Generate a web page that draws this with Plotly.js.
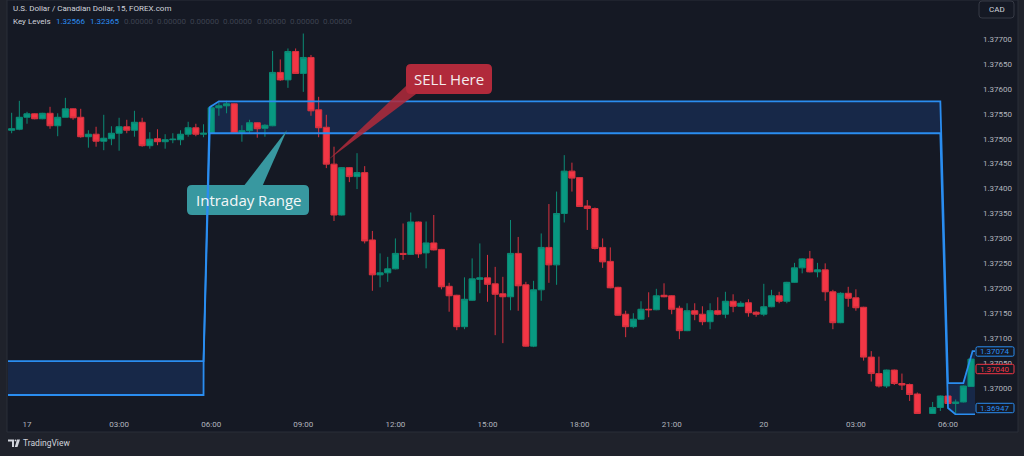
<!DOCTYPE html>
<html><head><meta charset="utf-8">
<script src="https://cdn.plot.ly/plotly-3.0.1.min.js"></script>
<style>html,body{margin:0;padding:0;background:#151924;}#chart{width:1024px;height:456px;}</style>
</head><body><div id="chart"></div>
<script>
// ---- data (bar index 0 = 17th 00:00, 15-minute bars) ----
const barIndex = [-2,-1,0,1,2,3,4,5,6,7,8,9,10,11,12,13,14,15,16,17,18,19,20,21,22,23,24,25,26,27,28,29,30,31,32,33,34,35,36,37,38,39,40,41,42,43,44,45,46,47,48,49,50,51,52,53,54,55,56,57,58,59,60,61,62,63,64,65,66,67,68,69,70,71,72,73,74,75,76,77,78,79,80,81,82,83,84,85,86,87,88,89,90,91,92,93,94,95,96,97,98,99,100,101,102,103,104,105,106,107,108,109,110,111,112,113,114,115,116,118,119,120,121,122,123];
const openP = [1.37517,1.37519,1.37543,1.37550,1.37540,1.37551,1.37526,1.37543,1.37560,1.37543,1.37504,1.37509,1.37495,1.37500,1.37511,1.37524,1.37517,1.37533,1.37486,1.37500,1.37494,1.37498,1.37498,1.37509,1.37522,1.37509,1.37511,1.37562,1.37566,1.37570,1.37513,1.37516,1.37532,1.37521,1.37526,1.37633,1.37618,1.37675,1.37631,1.37663,1.37558,1.37523,1.37449,1.37347,1.37442,1.37424,1.37432,1.37297,1.37227,1.37231,1.37239,1.37270,1.37268,1.37333,1.37271,1.37291,1.37278,1.37204,1.37186,1.37123,1.37176,1.37218,1.37221,1.37209,1.37189,1.37183,1.37270,1.37207,1.37084,1.37197,1.37282,1.37247,1.37350,1.37435,1.37422,1.37365,1.37360,1.37282,1.37254,1.37202,1.37148,1.37123,1.37138,1.37158,1.37157,1.37186,1.37185,1.37160,1.37115,1.37155,1.37148,1.37133,1.37155,1.37148,1.37174,1.37164,1.37171,1.37152,1.37148,1.37163,1.37185,1.37174,1.37212,1.37241,1.37259,1.37233,1.37237,1.37193,1.37131,1.37190,1.37181,1.37162,1.37062,1.37029,1.37004,1.37036,1.37009,1.37007,1.36988,1.36949,1.36961,1.36984,1.36969,1.36972,1.37003];
const highP = [1.37552,1.37576,1.37554,1.37551,1.37552,1.37564,1.37551,1.37582,1.37561,1.37560,1.37517,1.37524,1.37548,1.37525,1.37542,1.37538,1.37556,1.37542,1.37513,1.37519,1.37509,1.37511,1.37517,1.37534,1.37530,1.37529,1.37568,1.37573,1.37576,1.37571,1.37527,1.37538,1.37533,1.37529,1.37676,1.37659,1.37681,1.37681,1.37711,1.37668,1.37584,1.37548,1.37484,1.37443,1.37443,1.37471,1.37445,1.37315,1.37270,1.37263,1.37300,1.37330,1.37352,1.37334,1.37334,1.37347,1.37279,1.37211,1.37187,1.37222,1.37260,1.37290,1.37267,1.37243,1.37223,1.37337,1.37303,1.37213,1.37215,1.37310,1.37369,1.37394,1.37467,1.37452,1.37423,1.37377,1.37362,1.37300,1.37282,1.37203,1.37155,1.37150,1.37174,1.37192,1.37199,1.37210,1.37186,1.37165,1.37170,1.37170,1.37164,1.37170,1.37182,1.37193,1.37188,1.37174,1.37178,1.37154,1.37209,1.37197,1.37193,1.37213,1.37251,1.37260,1.37275,1.37251,1.37250,1.37197,1.37192,1.37203,1.37198,1.37163,1.37074,1.37063,1.37037,1.37037,1.37029,1.37009,1.36991,1.36972,1.36985,1.36985,1.36977,1.37005,1.37059];
const lowP = [1.37511,1.37517,1.37530,1.37539,1.37539,1.37520,1.37505,1.37543,1.37538,1.37502,1.37482,1.37484,1.37477,1.37487,1.37476,1.37511,1.37504,1.37484,1.37480,1.37487,1.37480,1.37491,1.37487,1.37504,1.37505,1.37503,1.37510,1.37546,1.37551,1.37510,1.37494,1.37511,1.37502,1.37504,1.37525,1.37616,1.37602,1.37630,1.37594,1.37546,1.37503,1.37441,1.37335,1.37346,1.37413,1.37399,1.37290,1.37195,1.37202,1.37213,1.37238,1.37257,1.37267,1.37261,1.37240,1.37276,1.37198,1.37153,1.37116,1.37118,1.37175,1.37190,1.37173,1.37106,1.37090,1.37156,1.37155,1.37083,1.37082,1.37175,1.37211,1.37207,1.37332,1.37394,1.37363,1.37317,1.37278,1.37241,1.37200,1.37145,1.37102,1.37120,1.37137,1.37142,1.37156,1.37182,1.37148,1.37098,1.37114,1.37136,1.37126,1.37118,1.37146,1.37140,1.37152,1.37163,1.37143,1.37143,1.37144,1.37162,1.37170,1.37170,1.37211,1.37230,1.37232,1.37222,1.37175,1.37118,1.37130,1.37163,1.37155,1.37055,1.37013,1.37001,1.37000,1.37006,1.36996,1.36974,1.36948,1.36948,1.36954,1.36967,1.36949,1.36971,1.37002];
const closeP = [1.37520,1.37543,1.37550,1.37540,1.37551,1.37526,1.37543,1.37560,1.37542,1.37504,1.37509,1.37495,1.37501,1.37511,1.37524,1.37517,1.37533,1.37486,1.37499,1.37494,1.37498,1.37499,1.37509,1.37522,1.37509,1.37511,1.37562,1.37566,1.37570,1.37511,1.37516,1.37532,1.37520,1.37527,1.37633,1.37618,1.37675,1.37631,1.37663,1.37556,1.37522,1.37449,1.37347,1.37442,1.37424,1.37432,1.37295,1.37227,1.37231,1.37239,1.37270,1.37268,1.37333,1.37269,1.37291,1.37277,1.37203,1.37185,1.37123,1.37178,1.37219,1.37221,1.37208,1.37188,1.37183,1.37270,1.37205,1.37084,1.37197,1.37282,1.37247,1.37350,1.37435,1.37421,1.37364,1.37360,1.37280,1.37253,1.37201,1.37146,1.37123,1.37138,1.37158,1.37157,1.37185,1.37183,1.37158,1.37115,1.37155,1.37148,1.37133,1.37155,1.37148,1.37174,1.37164,1.37170,1.37151,1.37148,1.37163,1.37185,1.37174,1.37212,1.37241,1.37259,1.37233,1.37237,1.37193,1.37131,1.37190,1.37180,1.37161,1.37062,1.37029,1.37004,1.37036,1.37009,1.37006,1.36987,1.36949,1.36961,1.36984,1.36969,1.36972,1.37004,1.37058];

// Key Levels indicator (upper and lower level lines)
const keyTopX = [-4,23,23.8,25,119,120,122,123.2,125];
const keyTopY = [1.37054,1.37054,1.37563,1.37575,1.37575,1.37010,1.37010,1.37074,1.37074];
const keyBotX = [-4,23,23.01,23.8,119,120,121,125];
const keyBotY = [1.36986,1.36986,1.37054,1.37511,1.37511,1.36960,1.36947,1.36947];

// axis labels
const timeTickIdx = [0,12,24,36,48,60,72,84,96,108,120];
const timeTickText = ['17','03:00','06:00','09:00','12:00','15:00','18:00','21:00','20','03:00','06:00'];
const priceTicks = [1.3700,1.3705,1.3710,1.3715,1.3720,1.3725,1.3730,1.3735,1.3740,1.3745,1.3750,1.3755,1.3760,1.3765,1.3770];

// header / labels text
const titleText = 'U.S. Dollar / Canadian Dollar, 15, FOREX.com';
const indicatorName = 'Key Levels';
const indicatorValues = ['1.32566','1.32365','0.00000','0.00000','0.00000','0.00000','0.00000','0.00000','0.00000'];
const priceLabels = [{v:'1.37074', c:'#2a8df0', y:351.5},{v:'1.37040', c:'#f23645', y:369},{v:'1.36947', c:'#2a8df0', y:408}];

// ---- layout geometry (pixels) ----
const W=1024, H=456, PL=8, PR=975, PT=0, PB=415;
const X0PX=27, BARPX=7.675;            // bar 0 centre, px per bar
const PXPRICE=49860, P_AT39=1.377;     // px per 1.0 price, price at y=39
const xr=[(PL-X0PX)/BARPX,(PR-X0PX)/BARPX];
const yr=[P_AT39-(PB-39)/PXPRICE, P_AT39+(39-PT)/PXPRICE];
const px=x=>(x-PL)/(PR-PL), py=y=>(PB-y)/(PB-PT);

function rrect(x0,y0,x1,y1,r){
  return `M${px(x0+r)},${py(y0)} L${px(x1-r)},${py(y0)} Q${px(x1)},${py(y0)} ${px(x1)},${py(y0+r)} L${px(x1)},${py(y1-r)} Q${px(x1)},${py(y1)} ${px(x1-r)},${py(y1)} L${px(x0+r)},${py(y1)} Q${px(x0)},${py(y1)} ${px(x0)},${py(y1-r)} L${px(x0)},${py(y0+r)} Q${px(x0)},${py(y0)} ${px(x0+r)},${py(y0)} Z`;
}
function poly(pts){return 'M'+pts.map(p=>px(p[0])+','+py(p[1])).join(' L')+' Z';}

// fill region between the key levels, in data coordinates (drawn below candles)
const bandPath = 'M' + keyTopX.map((x,k)=>x+','+keyTopY[k]).join(' L') + ' L' +
  keyBotX.map((x,k)=>x+','+keyBotY[k]).reverse().join(' L') + ' Z';

const OUTER='#1f222b', BG='#151924', FONT='Roboto, "Noto Sans", sans-serif';

const traces=[
  {type:'candlestick',x:barIndex,open:openP,high:highP,low:lowP,close:closeP,
   increasing:{line:{color:'#0b8b75',width:1},fillcolor:'#089981'},
   decreasing:{line:{color:'#d8323f',width:1},fillcolor:'#f23645'},
   whiskerwidth:0,hoverinfo:'skip'},
  {type:'scatter',mode:'lines',x:keyTopX,y:keyTopY,line:{color:'#2a8df0',width:1.8},hoverinfo:'skip'},
  {type:'scatter',mode:'lines',x:keyBotX,y:keyBotY,line:{color:'#2a8df0',width:1.8},hoverinfo:'skip'}
];

const shapes=[
  {type:'path',xref:'x',yref:'y',path:bandPath,fillcolor:'rgba(30,70,140,0.35)',line:{width:0},layer:'below'},
  {type:'rect',xref:'paper',yref:'paper',x0:px(0),x1:px(7),y0:py(0),y1:py(H),fillcolor:OUTER,line:{width:0},layer:'below'},
  {type:'rect',xref:'paper',yref:'paper',x0:px(1018),x1:px(W),y0:py(0),y1:py(H),fillcolor:OUTER,line:{width:0},layer:'below'},
  {type:'rect',xref:'paper',yref:'paper',x0:px(0),x1:px(W),y0:py(432),y1:py(H),fillcolor:OUTER,line:{width:0},layer:'below'},
  {type:'rect',xref:'paper',yref:'paper',x0:px(7),x1:px(1018),y0:py(0),y1:py(432),line:{color:'#2a2e39',width:1},layer:'below'},
  // CAD button
  {type:'path',xref:'paper',yref:'paper',path:rrect(979,1,1014,18,3),fillcolor:BG,line:{color:'#363a45',width:1}},
  // Intraday Range callout
  {type:'path',xref:'paper',yref:'paper',path:poly([[243,187],[262,187],[287,130]]),fillcolor:'#3898a0',line:{width:0},layer:'above'},
  {type:'path',xref:'paper',yref:'paper',path:rrect(187,185,309,215,5),fillcolor:'#3898a0',line:{width:0},layer:'below'},
  // SELL Here callout
  {type:'path',xref:'paper',yref:'paper',path:poly([[406,86],[416,94],[328,160]]),fillcolor:'#b12a3b',opacity:0.85,line:{width:0}},
  {type:'path',xref:'paper',yref:'paper',path:rrect(406,64,492,94,5),fillcolor:'#b12a3b',line:{width:0}},
  // TradingView logo mark
  {type:'path',xref:'paper',yref:'paper',path:poly([[8,439.5],[14,439.5],[14,447],[12,447],[12,441.5],[8,441.5]]),fillcolor:'#d1d4dc',line:{width:0}},
  {type:'path',xref:'paper',yref:'paper',path:poly([[17,439.5],[20,439.5],[17.5,447],[14.8,447]]),fillcolor:'#d1d4dc',line:{width:0}},
  {type:'circle',xref:'paper',yref:'paper',x0:px(14.6),x1:px(16.4),y0:py(439.5),y1:py(441.3),fillcolor:'#d1d4dc',line:{width:0}}
];
priceLabels.forEach(l=>{
  shapes.push({type:'path',xref:'paper',yref:'paper',path:rrect(976,l.y-4.7,1014,l.y+4.7,1.5),fillcolor:BG,line:{color:l.c,width:1}});
});

const ann=[];
const A=(text,x,y,opt)=>ann.push(Object.assign({text,xref:'paper',yref:'paper',x:px(x),y:py(y),showarrow:false,xanchor:'left',yanchor:'middle',font:{family:FONT,size:8,color:'#d1d4dc'}},opt||{}));
A(titleText,11,8);
A(indicatorName,11,21);
indicatorValues.forEach((v,k)=>{
  const x = k<2 ? 54+k*33.5 : 121.5+(k-2)*33.3;
  A(v,x,21,{font:{family:FONT,size:8,color:k<2?'#2a8df0':'#3d4250'}});
});
A('CAD',996.5,9.5,{xanchor:'center'});
A('SELL Here',449,79,{xanchor:'center',font:{family:'"Open Sans", sans-serif',size:15,color:'#f4ecee'}});
A('Intraday Range',248,200,{xanchor:'center',font:{family:'"Open Sans", sans-serif',size:15,color:'#f4f7f8'}});
A('TradingView',21,443,{font:{family:FONT,size:8.5,color:'#d1d4dc'}});
priceLabels.forEach(l=>A(l.v,995,l.y,{xanchor:'center',font:{family:FONT,size:8,color:l.c}}));

const layout={
  width:W,height:H,margin:{l:PL,r:W-PR,t:PT,b:H-PB,pad:0},
  paper_bgcolor:BG,plot_bgcolor:BG,showlegend:false,hovermode:false,dragmode:false,
  boxgap:0.2,boxgroupgap:0,
  xaxis:{range:xr,tickmode:'array',tickvals:timeTickIdx,ticktext:timeTickText,showgrid:false,zeroline:false,showline:false,ticks:'',
    tickfont:{family:FONT,size:8,color:'#b2b5be'},rangeslider:{visible:false},fixedrange:true,ticklabelstandoff:3},
  yaxis:{side:'right',range:yr,tickmode:'array',tickvals:priceTicks,ticktext:priceTicks.map(v=>v.toFixed(5)),showgrid:false,zeroline:false,showline:false,ticks:'',
    tickfont:{family:FONT,size:8,color:'#b2b5be'},fixedrange:true,ticklabelstandoff:7},
  shapes:shapes,annotations:ann
};
Plotly.newPlot('chart',traces,layout,{displayModeBar:false,staticPlot:true});
</script></body></html>
